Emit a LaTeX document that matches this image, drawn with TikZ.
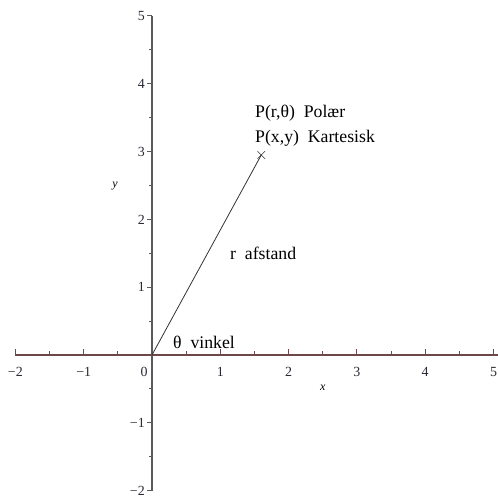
\documentclass[tikz,border=0pt]{standalone}
\usepackage{fontspec}
\setmainfont{Liberation Serif}
\usetikzlibrary{shapes.misc}
\definecolor{xaxis}{HTML}{6E4848}
\definecolor{yaxis}{HTML}{5A5A5A}
\definecolor{ticklab}{HTML}{2A2A35}
\tikzset{
  ticklabel/.style={font=\fontsize{14}{14}\selectfont, text=ticklab, inner sep=0pt},
  lbl/.style={font=\fontsize{17.8}{17.8}\selectfont, anchor=west, inner sep=0pt},
  axlbl/.style={font=\fontsize{12}{12}\selectfont\itshape, inner sep=0pt},
  marker/.style={cross out, draw=black!80, line width=0.6pt, minimum size=7bp, inner sep=0pt}
}
\begin{document}
\begin{tikzpicture}[x=68.3bp, y=67.8bp]
\useasboundingbox (-2.2255,-2.080) rectangle (5.066,5.236);
% x axis
\draw[xaxis, line width=1.6bp] (-2,0) -- (5.07,0);
\foreach \i in {-2,-1,1,2,3,4,5}
  \draw[xaxis, line width=1bp] (\i,0) -- ++(0,6bp);
\foreach \i in {-1.5,-0.5,0.5,1.5,2.5,3.5,4.5}
  \draw[xaxis, line width=1bp] (\i,0) -- ++(0,3.5bp);
\foreach \i in {-2,-1,1,2,3,4,5}
  \node[ticklabel, anchor=north] at ([yshift=-12bp]\i,0) {\ifnum\i<0 −\the\numexpr-\i\relax\else\i\fi};
\node[ticklabel, anchor=north] at ([xshift=-8bp,yshift=-12bp]0,0) {0};
% y axis
\draw[yaxis, line width=1.2bp] (0,-2) -- (0,5);
\foreach \i in {-2,-1,1,2,3,4,5}
  \draw[yaxis, line width=1bp] (0,\i) -- ++(-5bp,0);
\foreach \i in {-1.5,-0.5,0.5,1.5,2.5,3.5,4.5}
  \draw[yaxis, line width=1bp] (0,\i) -- ++(-3bp,0);
\foreach \i in {-2,-1,1,2,3,4,5}
  \node[ticklabel, anchor=east] at ([xshift=-7bp]0,\i) {\ifnum\i<0 −\the\numexpr-\i\relax\else\i\fi};
% axis labels
\node[axlbl] (xl) at (2.5,-0.49) {x};
\node[axlbl] (yl) at (-0.54,2.49) {y};
% vector
\coordinate (O) at (0,0);
\node[marker] (P) at (1.6,2.95) {};
\draw[black!80, line width=0.8bp] (O) -- (P.center);
% labels
\node[lbl] (pol) at (1.508,3.569) {P(r,θ)\ \ Polær};
\node[lbl] (kar) at (1.508,3.20) {P(x,y)\ \ Kartesisk};
\node[lbl] (r) at (1.142,1.504) {r\ \ afstand};
\node[lbl] (th) at (0.307,0.19) {θ\ \ vinkel};
\end{tikzpicture}
\end{document}
